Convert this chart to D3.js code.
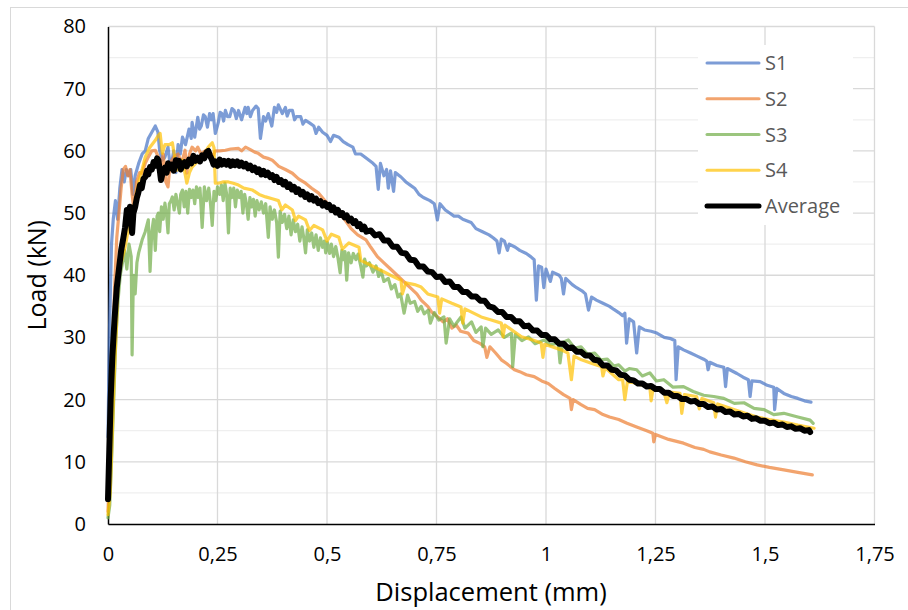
<!DOCTYPE html>
<html>
<head>
<meta charset="utf-8">
<script src="https://cdn.jsdelivr.net/npm/d3@7/dist/d3.min.js"></script>
<style>
  html, body { margin: 0; padding: 0; background: #fff; }
  svg { display: block; font-family: "Open Sans", "Liberation Sans", sans-serif; }
</style>
</head>
<body>
<svg id="chart" width="908" height="610"></svg>
<script>
// Load–displacement curves of four specimens and their average
const seriesNames = ["S1", "S2", "S3", "S4", "Average"];
const xTicks = [0, 0.25, 0.5, 0.75, 1, 1.25, 1.5, 1.75];
const xTickLabels = ["0", "0,25", "0,5", "0,75", "1", "1,25", "1,5", "1,75"];
const yTicks = [0, 10, 20, 30, 40, 50, 60, 70, 80];
const yTickLabels = ["0", "10", "20", "30", "40", "50", "60", "70", "80"];

// [displacement (mm), load (kN)]
const s1 = [[0,14],[0.003,30],[0.008,45],[0.012,49],[0.017,52],[0.022,49],[0.027,54],[0.032,57],[0.037,55],[0.042,57],[0.047,56],[0.052,57],[0.057,53],[0.062,56],[0.07,58],[0.078,59.5],[0.085,60],[0.092,62],[0.1,63],[0.108,64],[0.114,63],[0.118,60],[0.124,58.5],[0.13,59],[0.137,60.6],[0.143,57],[0.15,60],[0.155,56.5],[0.16,61],[0.165,59.5],[0.17,62.2],[0.177,61],[0.185,63.5],[0.19,62],[0.192,64.6],[0.198,62.2],[0.205,65.4],[0.209,63.5],[0.213,64],[0.218,65.8],[0.222,65.5],[0.227,63.8],[0.232,66],[0.236,65],[0.24,66],[0.245,62.8],[0.252,64.6],[0.256,66.2],[0.26,66],[0.264,64.8],[0.268,66.5],[0.273,65.5],[0.278,65.5],[0.283,66.8],[0.288,66.5],[0.293,65.2],[0.298,66.5],[0.305,65],[0.313,67],[0.317,66],[0.32,67],[0.325,65.5],[0.33,66.5],[0.338,67.2],[0.343,66.8],[0.348,62],[0.355,65.5],[0.36,64.8],[0.366,66],[0.374,64],[0.38,67],[0.385,66.2],[0.389,67.4],[0.398,66],[0.405,67],[0.409,65.6],[0.414,66.5],[0.421,66.5],[0.426,65],[0.43,65.5],[0.44,65.5],[0.445,64.3],[0.451,64.9],[0.46,64.5],[0.47,64],[0.475,62.8],[0.481,63.8],[0.49,63],[0.5,62.5],[0.508,61.5],[0.515,62.5],[0.527,62.2],[0.537,61.5],[0.548,61],[0.559,60.6],[0.565,59.5],[0.577,59.5],[0.59,58.8],[0.605,58],[0.612,57.5],[0.617,53.8],[0.622,58],[0.63,56],[0.636,57],[0.64,54],[0.645,56.8],[0.652,53.5],[0.656,56.5],[0.669,55.8],[0.68,55],[0.69,54.5],[0.7,54],[0.71,53],[0.72,52.5],[0.735,52],[0.745,51.5],[0.752,48.9],[0.758,51.5],[0.77,50.5],[0.78,50],[0.79,49.5],[0.8,49.5],[0.81,49],[0.829,48.5],[0.84,47.5],[0.855,47],[0.87,46.5],[0.88,46],[0.888,45.5],[0.893,43.6],[0.898,45.8],[0.905,45.5],[0.912,44],[0.916,45],[0.93,44.5],[0.94,44],[0.955,43.5],[0.965,43],[0.973,42.5],[0.978,36],[0.983,41.5],[0.99,41.3],[0.995,38],[1.0,41],[1.01,39],[1.015,40.5],[1.03,40],[1.035,39.5],[1.04,37],[1.045,39.5],[1.06,38.5],[1.07,38],[1.082,37.5],[1.09,37],[1.097,34.4],[1.104,36.5],[1.115,36],[1.13,35.5],[1.145,35],[1.155,34.5],[1.166,34],[1.175,33.5],[1.18,33.9],[1.184,29.1],[1.19,33],[1.2,32.5],[1.207,27.5],[1.213,31.7],[1.225,31.2],[1.24,31],[1.253,30.7],[1.27,30],[1.285,29.8],[1.294,29.5],[1.297,23.2],[1.302,28.5],[1.314,28],[1.33,27.5],[1.345,27],[1.36,26.5],[1.367,26.2],[1.37,24.8],[1.374,26],[1.39,25.5],[1.406,25.2],[1.41,22.1],[1.414,25],[1.436,24.2],[1.45,23.6],[1.462,23.2],[1.466,20.5],[1.47,23],[1.489,22.9],[1.505,22.3],[1.52,22],[1.522,18.4],[1.527,21.8],[1.543,21],[1.56,20.5],[1.575,20.2],[1.59,19.8],[1.605,19.6]];

const s2 = [[0,2],[0.004,10],[0.01,25],[0.015,38],[0.02,46],[0.025,50],[0.03,54],[0.035,57],[0.04,57.5],[0.045,56],[0.05,57],[0.055,53],[0.06,50],[0.065,55],[0.072,56.5],[0.078,56.4],[0.085,58],[0.092,59],[0.1,60],[0.108,60.1],[0.115,59],[0.12,57.4],[0.126,59.5],[0.132,55],[0.137,54.2],[0.142,58],[0.15,59],[0.16,59.5],[0.168,58],[0.176,60.1],[0.18,56.4],[0.186,59.5],[0.192,60.6],[0.2,60],[0.205,60.6],[0.212,59.5],[0.222,60],[0.238,59],[0.245,60],[0.255,60],[0.268,60.1],[0.28,60.3],[0.298,60.4],[0.305,60],[0.314,60.6],[0.325,60.2],[0.335,59.8],[0.343,59.6],[0.355,59],[0.365,58.8],[0.375,58.5],[0.39,57.5],[0.405,57],[0.421,56.4],[0.435,55.5],[0.451,54.8],[0.465,54],[0.481,53.2],[0.495,52],[0.51,51],[0.527,50],[0.54,49],[0.555,47.5],[0.57,46.5],[0.589,45.7],[0.6,44.5],[0.615,43],[0.63,42],[0.645,41],[0.66,40],[0.675,39],[0.69,38],[0.705,37],[0.715,36],[0.73,35],[0.74,34],[0.753,33.3],[0.765,32.5],[0.775,33],[0.785,31.5],[0.795,32],[0.805,31],[0.822,30.7],[0.835,29.5],[0.85,29],[0.86,28.5],[0.865,26.8],[0.872,28.5],[0.885,27.5],[0.898,26.4],[0.91,25.8],[0.928,24.8],[0.94,24.5],[0.955,24],[0.973,23.7],[0.99,23],[1.005,22.6],[1.02,21.8],[1.04,20.8],[1.055,20.2],[1.058,18.4],[1.062,20],[1.08,19.2],[1.095,18.6],[1.111,18.4],[1.13,17.6],[1.145,17.2],[1.166,16.8],[1.185,16.2],[1.207,15.6],[1.23,15],[1.244,14.6],[1.246,13.2],[1.25,14.4],[1.28,13.6],[1.314,13],[1.34,12.3],[1.36,12],[1.374,11.6],[1.4,11.1],[1.429,10.6],[1.455,10],[1.482,9.5],[1.51,9.1],[1.543,8.7],[1.575,8.3],[1.608,7.9]];

const s3 = [[0,1],[0.004,3],[0.008,10],[0.013,20],[0.018,30],[0.023,36],[0.028,40],[0.033,42],[0.038,44],[0.043,41],[0.048,45],[0.053,43],[0.055,27.2],[0.058,40],[0.062,37],[0.066,42],[0.07,43.6],[0.078,45.7],[0.085,47],[0.092,48.9],[0.096,40.6],[0.1,47],[0.104,49],[0.108,44],[0.112,49.5],[0.115,50],[0.118,47],[0.122,51],[0.126,49],[0.13,51.6],[0.134,49.5],[0.137,46.8],[0.14,51.5],[0.144,52],[0.147,52.6],[0.151,50.5],[0.155,53],[0.159,51.5],[0.163,50],[0.166,53],[0.17,53.7],[0.174,51],[0.178,53.5],[0.182,50],[0.186,53.8],[0.19,52.5],[0.194,53.7],[0.198,51.5],[0.202,54.2],[0.206,52.5],[0.21,54],[0.215,47.7],[0.22,54.2],[0.225,52],[0.23,54],[0.234,51.5],[0.238,48],[0.242,53.5],[0.246,52],[0.25,54.2],[0.255,53],[0.259,54.5],[0.263,52],[0.267,54.8],[0.271,53],[0.275,46.8],[0.279,54],[0.283,52.5],[0.287,54],[0.291,51],[0.295,53.7],[0.3,52.5],[0.304,53.5],[0.308,50],[0.312,53],[0.316,51.5],[0.32,49],[0.324,52.5],[0.328,51],[0.332,52.2],[0.336,49.5],[0.34,52],[0.345,50.5],[0.35,51.8],[0.355,50],[0.36,51.5],[0.366,46.1],[0.37,51],[0.375,49],[0.38,50.5],[0.385,48.5],[0.389,42.9],[0.393,50.3],[0.398,48.5],[0.403,49.8],[0.408,47.5],[0.413,49.5],[0.418,46.5],[0.423,48.9],[0.428,47],[0.433,48.2],[0.438,45.5],[0.443,47.8],[0.447,46],[0.451,43.6],[0.455,47.3],[0.46,45.5],[0.465,46.8],[0.47,44.5],[0.475,46.5],[0.48,44],[0.485,46],[0.49,44.5],[0.494,45.5],[0.497,43.6],[0.501,45.3],[0.506,43.5],[0.51,45],[0.515,43],[0.52,44.6],[0.525,42.8],[0.53,40.4],[0.534,44],[0.538,42.5],[0.541,43.8],[0.545,39.2],[0.549,43.6],[0.555,42],[0.56,43.5],[0.566,42.5],[0.571,43.4],[0.577,41.5],[0.582,39.7],[0.586,42.6],[0.59,41.5],[0.597,42],[0.605,40.5],[0.612,41.5],[0.618,39.8],[0.623,40.8],[0.63,39],[0.64,39.5],[0.647,37.8],[0.655,38.5],[0.662,36.5],[0.668,37],[0.676,33.9],[0.684,36.8],[0.69,35.5],[0.7,35.8],[0.707,34.2],[0.715,35],[0.722,33.8],[0.731,34.4],[0.736,32.3],[0.745,34],[0.755,32.8],[0.767,33.3],[0.772,29.1],[0.78,33],[0.79,31.8],[0.806,33.3],[0.815,31.5],[0.83,32.5],[0.84,30.8],[0.852,31.7],[0.856,28.5],[0.862,31.5],[0.875,30.5],[0.891,31.2],[0.905,30],[0.921,30.7],[0.924,25.3],[0.93,30.5],[0.945,29.5],[0.96,30.1],[0.975,29],[0.996,29.6],[1.01,28.8],[1.028,29.1],[1.032,25.9],[1.038,29.2],[1.051,29.6],[1.065,28.3],[1.08,28.5],[1.095,27.3],[1.111,27.5],[1.125,26.4],[1.14,26.5],[1.155,25.4],[1.166,25.6],[1.18,24.6],[1.19,25],[1.207,24.8],[1.22,23.8],[1.237,24.3],[1.252,23],[1.269,23.2],[1.29,22],[1.314,22.1],[1.336,21.3],[1.36,20.7],[1.383,20.5],[1.406,20.2],[1.43,19.4],[1.452,19.5],[1.475,18.6],[1.498,18.4],[1.52,17.6],[1.543,17.8],[1.575,17.2],[1.603,16.7],[1.61,16.2]];

const s4 = [[0,1.5],[0.005,5],[0.01,15],[0.015,25],[0.02,33],[0.023,39.2],[0.03,42],[0.039,44.5],[0.045,46.8],[0.05,48.5],[0.055,50],[0.062,52],[0.07,55],[0.078,57],[0.085,59],[0.095,60.5],[0.108,61.7],[0.115,62.5],[0.119,62.8],[0.124,59.6],[0.13,61],[0.14,61],[0.147,61.3],[0.157,56.9],[0.163,58],[0.17,58.5],[0.18,54.8],[0.186,56.5],[0.192,57.4],[0.2,58],[0.215,59],[0.229,60.6],[0.238,61.3],[0.242,60.5],[0.245,54.8],[0.252,54.8],[0.262,55],[0.275,55],[0.286,54.8],[0.298,54.5],[0.31,54],[0.33,53.7],[0.345,53],[0.36,52.6],[0.375,52.3],[0.389,52],[0.397,50.5],[0.405,51.3],[0.421,50.5],[0.428,48.8],[0.435,49.5],[0.451,48.9],[0.46,47.2],[0.47,48],[0.49,47.3],[0.5,45.5],[0.51,46.6],[0.527,46.1],[0.535,44.2],[0.55,45.2],[0.573,44.5],[0.577,42.4],[0.6,41.6],[0.623,40.8],[0.645,40],[0.669,39.2],[0.672,37],[0.68,38.8],[0.7,38.5],[0.715,38.1],[0.73,37],[0.753,36.5],[0.757,33.9],[0.762,36.2],[0.785,35.5],[0.806,34.9],[0.81,32.3],[0.815,34.6],[0.852,33.3],[0.875,32.8],[0.898,32.3],[0.902,30.1],[0.906,32],[0.944,30.1],[0.97,29.6],[0.989,29.1],[0.993,26.8],[0.997,28.9],[1.035,28],[1.05,27.5],[1.058,23.2],[1.064,27],[1.081,26.4],[1.105,25.8],[1.127,25.3],[1.13,23.8],[1.135,25.1],[1.166,23.2],[1.175,23.2],[1.18,20],[1.186,23],[1.21,22.5],[1.237,22.1],[1.24,19.8],[1.245,22],[1.268,21.5],[1.276,19.5],[1.282,21.2],[1.306,21],[1.31,17.8],[1.316,20.8],[1.344,20.5],[1.35,18.5],[1.356,20.2],[1.383,19.5],[1.387,17.2],[1.392,19.3],[1.429,18.4],[1.455,17.8],[1.482,17.2],[1.51,16.8],[1.543,16.4],[1.575,15.9],[1.612,15.4]];

const average = [[0,4],[0.003,12],[0.006,20],[0.01,27],[0.015,33],[0.02,38],[0.025,41],[0.03,44],[0.035,46],[0.039,47.7],[0.043,50.5],[0.047,49.5],[0.05,51],[0.053,48],[0.055,46.8],[0.058,50],[0.062,51],[0.066,52.5],[0.069,53.2],[0.073,54.5],[0.077,54],[0.081,55.5],[0.085,55.8],[0.089,56.8],[0.092,56.2],[0.096,57.4],[0.1,57],[0.104,58.2],[0.108,57.6],[0.112,58.8],[0.115,58.5],[0.118,57],[0.121,55.3],[0.125,56.5],[0.13,57.3],[0.134,56.5],[0.137,58],[0.141,57.2],[0.145,57.8],[0.15,56.8],[0.155,58.5],[0.159,57.8],[0.162,58.4],[0.166,57],[0.17,57.6],[0.175,58.2],[0.18,57.5],[0.185,58.6],[0.19,58],[0.195,59.2],[0.2,58.4],[0.205,58.9],[0.21,58.3],[0.215,59.3],[0.22,58.8],[0.225,59.8],[0.229,60],[0.233,59.2],[0.237,58.6],[0.241,57.8],[0.245,58.3],[0.25,57.6],[0.255,58.6],[0.26,57.8],[0.265,58.4],[0.27,57.8],[0.275,58.4],[0.28,57.6],[0.285,58.3],[0.29,57.7],[0.295,58.3],[0.3,57.6],[0.305,58.1],[0.31,57.5],[0.315,57.9],[0.32,57.2],[0.325,57.6],[0.33,56.9],[0.335,57.3],[0.34,56.6],[0.345,57],[0.35,56.2],[0.355,56.8],[0.36,56.1],[0.365,56.5],[0.37,55.8],[0.375,56.1],[0.38,55.3],[0.385,55.8],[0.39,55],[0.395,55.3],[0.4,54.6],[0.405,55],[0.41,54.2],[0.415,54.6],[0.42,53.8],[0.425,54.2],[0.43,53.4],[0.435,53.8],[0.44,53],[0.445,53.4],[0.45,52.6],[0.455,53],[0.46,52.2],[0.465,52.7],[0.47,52],[0.475,52.3],[0.48,51.6],[0.485,51.9],[0.49,51.2],[0.495,51.6],[0.5,51],[0.505,51.3],[0.51,50.5],[0.515,50.9],[0.52,50.1],[0.525,50.5],[0.53,49.7],[0.535,50],[0.54,49.3],[0.545,49.6],[0.55,48.8],[0.555,49.1],[0.56,48.4],[0.565,48.7],[0.57,47.9],[0.575,48.2],[0.58,47.4],[0.585,47.8],[0.59,47],[0.6,47.2],[0.61,46.4],[0.62,46.6],[0.63,45.6],[0.64,45.6],[0.65,44.6],[0.66,44.6],[0.67,43.6],[0.68,43.5],[0.69,42.5],[0.7,42.4],[0.71,41.4],[0.72,41.4],[0.73,40.6],[0.74,40.5],[0.75,39.7],[0.76,39.8],[0.77,38.9],[0.78,39],[0.79,38.1],[0.8,38.1],[0.81,37.3],[0.82,37.3],[0.83,36.6],[0.84,36.6],[0.85,35.9],[0.86,35.9],[0.87,35],[0.88,34.8],[0.89,34.1],[0.9,34.1],[0.91,33.3],[0.92,33.3],[0.93,32.6],[0.94,32.6],[0.95,31.8],[0.96,31.9],[0.97,31.1],[0.98,31.1],[0.99,30.4],[1.0,30.4],[1.01,29.7],[1.02,29.7],[1.03,29],[1.04,29],[1.05,28.3],[1.06,28.4],[1.07,27.7],[1.08,27.7],[1.09,27.1],[1.1,27.1],[1.11,26.4],[1.12,26.3],[1.13,25.5],[1.14,25.5],[1.15,24.8],[1.16,24.7],[1.17,24],[1.18,23.9],[1.19,23.2],[1.2,23.1],[1.21,22.6],[1.22,22.6],[1.23,22.1],[1.24,22.2],[1.25,21.7],[1.26,21.7],[1.27,21.1],[1.28,21.1],[1.29,20.6],[1.3,20.6],[1.31,20.1],[1.32,20.1],[1.33,19.7],[1.34,19.8],[1.35,19.3],[1.36,19.3],[1.37,18.8],[1.38,18.9],[1.39,18.4],[1.4,18.5],[1.41,18],[1.42,18.1],[1.43,17.6],[1.44,17.7],[1.45,17.3],[1.46,17.4],[1.47,16.9],[1.48,17],[1.49,16.6],[1.5,16.6],[1.51,16.2],[1.52,16.3],[1.53,15.9],[1.54,16],[1.55,15.6],[1.56,15.7],[1.57,15.3],[1.58,15.4],[1.59,15],[1.6,15.1],[1.603,14.8]];

const seriesData = [s1, s2, s3, s4, average];
const seriesColors = ["#4472C4", "#ED7D31", "#70AD47", "#FFC000", "#000000"];
const seriesOpacity = [0.7, 0.7, 0.7, 0.7, 1];
const seriesWidth = [3.2, 3.2, 3.2, 3.2, 6];

const svg = d3.select("#chart");
const plot = { left: 108, right: 874.5, top: 26.5, bottom: 524 };

// chart frame
svg.append("rect")
  .attr("x", 10.5).attr("y", 7.5)
  .attr("width", 905).attr("height", 610)
  .attr("fill", "#fff").attr("stroke", "#d9d9d9").attr("stroke-width", 1);

const x = d3.scaleLinear().domain([0, 1.75]).range([plot.left, plot.right]);
const y = d3.scaleLinear().domain([0, 80]).range([plot.bottom, plot.top]);

// minor horizontal grid (every 5 kN)
const minorY = d3.range(5, 80, 10);
svg.append("g").selectAll("line").data(minorY).join("line")
  .attr("x1", plot.left).attr("x2", plot.right)
  .attr("y1", d => y(d)).attr("y2", d => y(d))
  .attr("stroke", "#efefef").attr("stroke-width", 1.3);

// major horizontal grid
svg.append("g").selectAll("line").data(yTicks.slice(1)).join("line")
  .attr("x1", plot.left).attr("x2", plot.right)
  .attr("y1", d => y(d)).attr("y2", d => y(d))
  .attr("stroke", "#d9d9d9").attr("stroke-width", 1.3);

// vertical grid
svg.append("g").selectAll("line").data(xTicks.slice(1)).join("line")
  .attr("x1", d => x(d)).attr("x2", d => x(d))
  .attr("y1", plot.top).attr("y2", plot.bottom)
  .attr("stroke", "#d9d9d9").attr("stroke-width", 1.3);

// axes
const xAxis = d3.axisBottom(x).tickValues(xTicks)
  .tickFormat((d, i) => xTickLabels[i]).tickSize(0).tickPadding(23);
const gx = svg.append("g").attr("transform", `translate(0,${plot.bottom})`).call(xAxis);
gx.select(".domain").attr("stroke", "#000").attr("stroke-width", 1.5);
gx.selectAll("text").attr("font-size", 20).attr("fill", "#000")
  .attr("font-family", "Open Sans, sans-serif");

const yAxis = d3.axisLeft(y).tickValues(yTicks)
  .tickFormat((d, i) => yTickLabels[i]).tickSize(0).tickPadding(22);
const gy = svg.append("g").attr("transform", `translate(${plot.left},0)`).call(yAxis);
gy.select(".domain").attr("stroke", "#000").attr("stroke-width", 1.5);
gy.selectAll("text").attr("font-size", 20).attr("fill", "#000")
  .attr("font-family", "Open Sans, sans-serif");

// data lines
const line = d3.line().x(d => x(d[0])).y(d => y(d[1]));
const lines = svg.append("g");
seriesData.forEach((data, i) => {
  lines.append("path")
    .datum(data)
    .attr("d", line)
    .attr("fill", "none")
    .attr("stroke", seriesColors[i])
    .attr("stroke-opacity", seriesOpacity[i])
    .attr("stroke-width", seriesWidth[i])
    .attr("stroke-linejoin", "round")
    .attr("stroke-linecap", "round");
});

// axis titles
svg.append("text")
  .attr("x", 491).attr("y", 601)
  .attr("text-anchor", "middle").attr("font-size", 25.5).attr("fill", "#000")
  .text("Displacement (mm)");
svg.append("text")
  .attr("transform", `translate(46,${(plot.top + plot.bottom) / 2}) rotate(-90)`)
  .attr("text-anchor", "middle").attr("font-size", 25).attr("fill", "#000")
  .text("Load (kN)");

// legend
const legend = svg.append("g");
legend.append("rect")
  .attr("x", 698).attr("y", 45).attr("width", 155).attr("height", 180)
  .attr("fill", "#fff");
const legY = d3.scalePoint().domain(seriesNames).range([63, 206]);
seriesNames.forEach((name, i) => {
  const yy = legY(name);
  legend.append("line")
    .attr("x1", 707).attr("x2", 759).attr("y1", yy).attr("y2", yy)
    .attr("stroke", seriesColors[i]).attr("stroke-opacity", seriesOpacity[i])
    .attr("stroke-width", i === 4 ? 5 : 3).attr("stroke-linecap", "round");
  legend.append("text")
    .attr("x", 765).attr("y", yy).attr("dy", "0.35em")
    .attr("font-size", 20).attr("fill", "#595959")
    .text(name);
});
</script>
</body>
</html>
